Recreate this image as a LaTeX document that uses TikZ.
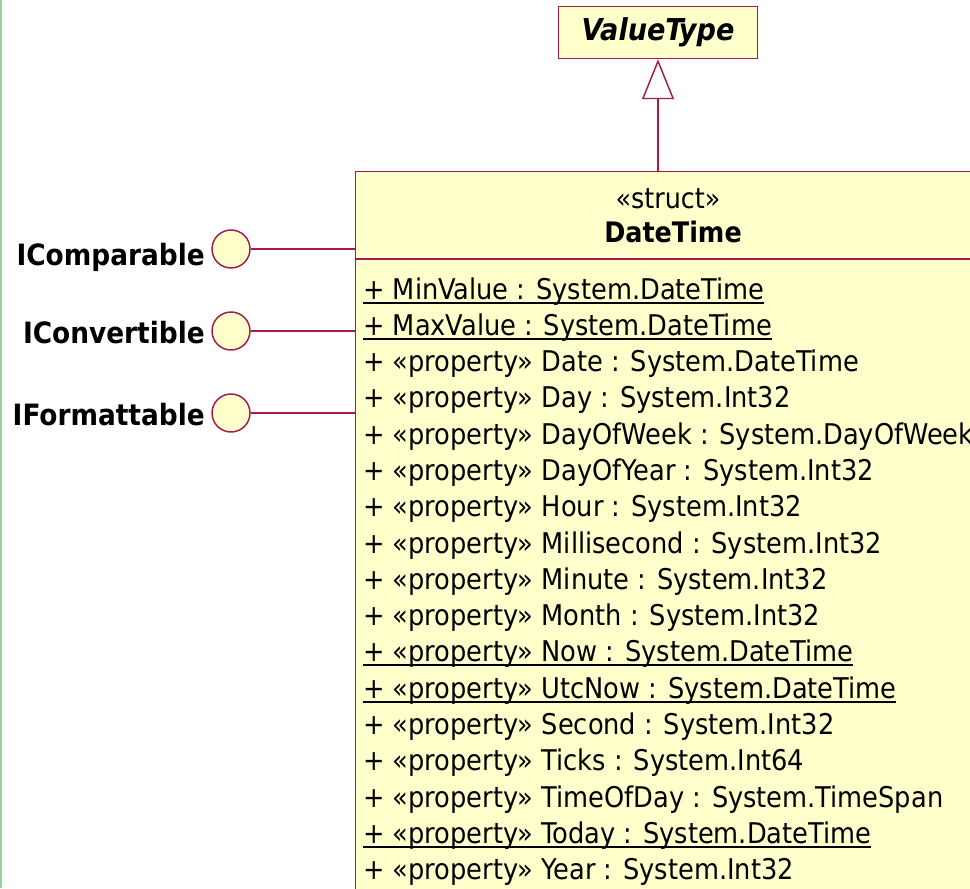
\documentclass[tikz,border=0pt]{standalone}
\usepackage{fontspec}
\setmainfont{DejaVu Sans Condensed}
\usetikzlibrary{arrows.meta,positioning}

\definecolor{umlred}{RGB}{165,25,75}
\definecolor{umlfill}{RGB}{255,255,204}
\definecolor{framegreen}{RGB}{150,210,150}

% underline at a fixed depth, as the diagram tool does
\newcommand{\ulined}[1]{\setbox0\hbox{#1}\rlap{\rule[-3.6pt]{\wd0}{1.3pt}}\box0}

\begin{document}
\begin{tikzpicture}
  [
   x=0.75pt,y=-0.75pt,
   cls/.style={rectangle,draw=umlred,fill=umlfill,line width=1.1pt,inner sep=0pt},
   iface/.style={circle,draw=umlred,fill=umlfill,line width=1.1pt,inner sep=0pt,minimum size=28.5pt},
   ilabel/.style={anchor=base east,inner sep=0pt,font=\fontsize{22}{26}\selectfont\bfseries},
   hdr/.style={anchor=base,inner sep=0pt,font=\fontsize{21.2}{25}\selectfont},
   mem/.style={anchor=base west,inner sep=0pt,font=\fontsize{21.4}{25}\selectfont},
   rel/.style={draw=umlred,line width=1.1pt},
   gen/.style={draw=umlred,line width=1.1pt,-{Triangle[open,length=30pt,width=24pt]}}
  ]
   \useasboundingbox[fill=white] (0,0) rectangle (970,888);
   \clip (0,0) rectangle (970,888);
   \draw[framegreen,line width=1.5pt] (1,0) -- (1,888);

   % base type
   \node[cls,minimum width=149pt,minimum height=39pt,
         font=\fontsize{22.6}{26}\selectfont\bfseries\itshape] (vt) at (658,32.5) {ValueType};

   % the struct
   \node[cls,anchor=north west,minimum width=472.5pt,minimum height=622pt] (dt) at (355,171) {};
   \draw[rel] ([yshift=-66pt]dt.north west) -- ([yshift=-66pt]dt.north east);
   \node[hdr] (st) at (668,208) {«struct»};
   \node[hdr,font=\fontsize{21.2}{25}\selectfont\bfseries] (dtn) at (673,242) {DateTime};

   \draw[gen] (vt.south |- dt.north) -- (vt.south);

   % members
   \node[mem] (m1)  at (363,299) {\ulined{+ MinValue : System.DateTime}};
   \node[mem] (m2)  at (363,335) {\ulined{+ MaxValue : System.DateTime}};
   \node[mem] (m3)  at (363,371) {+ «property» Date : System.DateTime};
   \node[mem] (m4)  at (363,407) {+ «property» Day : System.Int32};
   \node[mem] (m5)  at (363,444) {+ «property» DayOfWeek : System.DayOfWeek};
   \node[mem] (m6)  at (363,480) {+ «property» DayOfYear : System.Int32};
   \node[mem] (m7)  at (363,516) {+ «property» Hour : System.Int32};
   \node[mem] (m8)  at (363,553) {+ «property» Millisecond : System.Int32};
   \node[mem] (m9)  at (363,589) {+ «property» Minute : System.Int32};
   \node[mem] (m10) at (363,625) {+ «property» Month : System.Int32};
   \node[mem] (m11) at (363,661) {\ulined{+ «property» Now : System.DateTime}};
   \node[mem] (m12) at (363,698) {\ulined{+ «property» UtcNow : System.DateTime}};
   \node[mem] (m13) at (363,734) {+ «property» Second : System.Int32};
   \node[mem] (m14) at (363,770) {+ «property» Ticks : System.Int64};
   \node[mem] (m15) at (363,807) {+ «property» TimeOfDay : System.TimeSpan};
   \node[mem] (m16) at (363,843) {\ulined{+ «property» Today : System.DateTime}};
   \node[mem] (m17) at (363,879) {+ «property» Year : System.Int32};

   % interfaces
   \node[iface] (icomp) at (231,249) {};
   \node[iface] (iconv) at (231,331) {};
   \node[iface] (iform) at (231,413) {};
   \node[ilabel] (lcomp) at (205,265) {IComparable};
   \node[ilabel] (lconv) at (205,343) {IConvertible};
   \node[ilabel] (lform) at (205,425) {IFormattable};

   \draw[rel] (icomp) -- (icomp -| dt.west);
   \draw[rel] (iconv) -- (iconv -| dt.west);
   \draw[rel] (iform) -- (iform -| dt.west);

\end{tikzpicture}
\end{document}
